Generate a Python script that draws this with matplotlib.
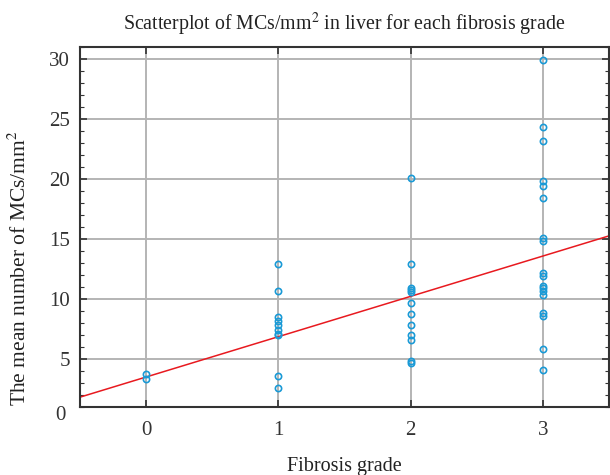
import matplotlib
matplotlib.use("Agg")
import matplotlib.pyplot as plt
import numpy as np
from matplotlib.ticker import MultipleLocator

plt.rcParams['font.family'] = ['Liberation Serif', 'DejaVu Serif']
plt.rcParams['mathtext.fontset'] = 'stix'

grade0 = [3.75, 3.35]
grade1 = [12.95, 10.7, 8.5, 8.2, 7.8, 7.4, 7.1, 7.0, 3.6, 2.6]
grade2 = [20.1, 12.9, 10.9, 10.75, 10.55, 9.7, 8.75, 7.8, 7.0, 6.6, 4.85, 4.7]
grade3 = [29.9, 24.3, 23.2, 19.8, 19.4, 18.4, 15.05, 14.8, 12.2, 11.9, 11.1, 10.9,
          10.7, 10.3, 8.8, 8.6, 5.8, 4.1]
grades = [0, 1, 2, 3]
fit_intercept = 3.5
fit_slope = 3.36
xticks = [0, 1, 2, 3]
yticks = [5, 10, 15, 20, 25, 30]

fig = plt.figure(figsize=(6.10, 4.75), dpi=100)
ax = fig.add_axes([80/610, 68/475, 529/610, 360/475])

ax.set_xlim(-0.5, 3.5)
ax.set_ylim(1, 31)
ax.set_xticks(xticks)
ax.set_yticks(yticks)
ax.yaxis.set_minor_locator(MultipleLocator(1))
ax.grid(True, which='major', color='#b4b4b4', linewidth=1.4)
ax.set_axisbelow(True)

for g, vals in zip(grades, [grade0, grade1, grade2, grade3]):
    ax.plot([g]*len(vals), vals, linestyle='none', marker='o', markersize=4.5,
            markerfacecolor='none', markeredgecolor='#1a9ad6', markeredgewidth=1.2, zorder=3)

xs = np.array([-0.5, 3.5])
ax.plot(xs, fit_intercept + fit_slope*xs, color='#e8191f', linewidth=1.1, zorder=2)

for s in ax.spines.values():
    s.set_color('#333333')
    s.set_linewidth(1.5)
ax.tick_params(which='both', direction='in', top=True, right=True, colors='#333333',
               labelsize=15, labelcolor='#333333')
ax.tick_params(which='major', length=5, width=1.2)
ax.tick_params(which='minor', length=3, width=0.8)
ax.tick_params(axis='x', pad=10)
ax.tick_params(axis='y', pad=7)

ax.annotate('0', xy=(0, 0), xycoords='axes fraction', xytext=(-10, -6),
            textcoords='offset points', ha='right', va='center',
            fontsize=15, color='#333333', annotation_clip=False)

ax.set_title(r'Scatterplot of MCs/mm$^{2}$ in liver for each fibrosis grade',
             fontsize=14.3, color='#222222', pad=12)
ax.set_xlabel('Fibrosis grade', fontsize=14.5, color='#222222', labelpad=12)
ax.set_ylabel(r'The mean number of MCs/mm$^{2}$', fontsize=15.5, color='#222222')
ax.yaxis.set_label_coords((31 - 80) / 529, (475 - 268 - 68) / 360)

fig.savefig('out.png', dpi=100)
